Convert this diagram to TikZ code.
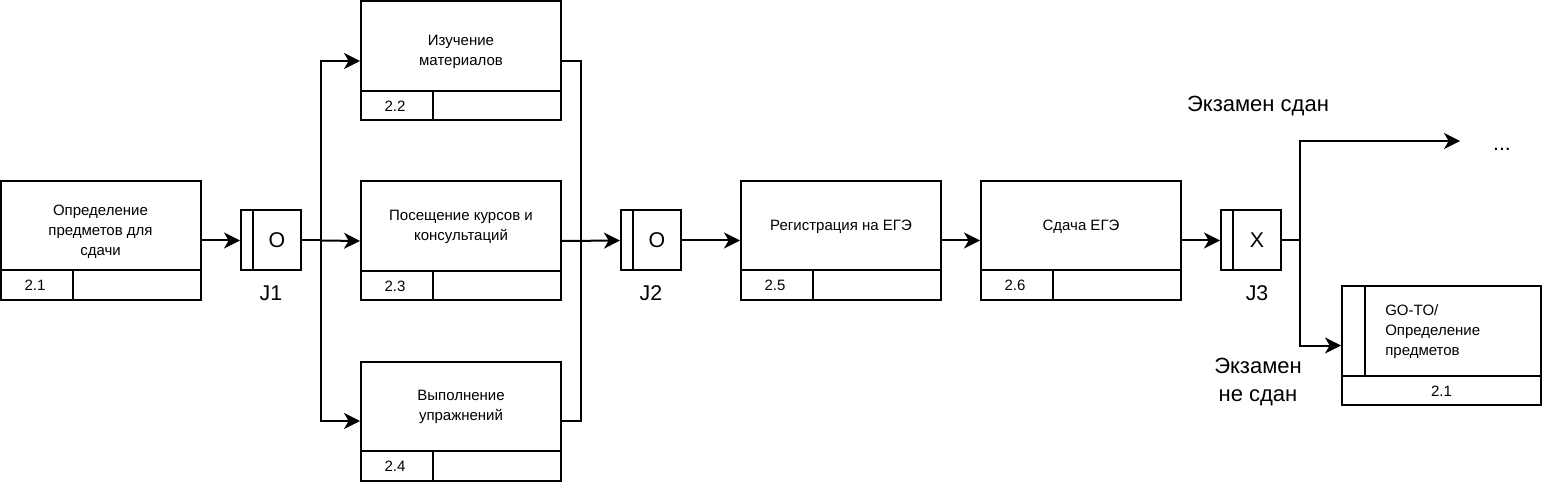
\documentclass[tikz,border=0pt]{standalone}
\usepackage{fontspec}
\setmainfont{Liberation Sans}
\usetikzlibrary{arrows.meta}
\tikzset{
  every picture/.style={x=0.75pt,y=-0.75pt},
  ln/.style={line width=1.5pt},
  proc/.style={draw,line width=1.5pt,minimum width=150pt,minimum height=89.25pt,inner sep=0pt},
  goto/.style={draw,line width=1.5pt,minimum width=149.25pt,minimum height=89.25pt,inner sep=0pt},
  junc/.style={draw,line width=1.5pt,minimum width=45pt,minimum height=45pt,inner sep=0pt},
  txt/.style={align=center,inner sep=0pt,font=\fontsize{11.25}{15}\selectfont},
  big/.style={align=center,inner sep=0pt,font=\fontsize{16}{21}\selectfont},
  exam/.style={align=center,inner sep=0pt,font=\fontsize{16.5}{21}\selectfont},
  arr/.style={line width=1.5pt,-{Stealth[length=12pt,width=12pt,inset=3.5pt]}},
  con/.style={line width=1.5pt}
}
\begin{document}
\begin{tikzpicture}
\useasboundingbox (0,0) rectangle (1544,484);
% boxes
\node[proc] (b21) at (100.5,240.5) {};
\node[proc] (b22) at (461,61) {};
\node[proc] (b23) at (461,241) {};
\node[proc] (b24) at (461,421) {};
\node[proc] (b25) at (841,240.5) {};
\node[proc] (b26) at (1081,240.5) {};
\node[goto] (bgo) at (1441.5,345.5) {};
% dividers
\draw[ln] (0,270) -- (201,270) (73,270) -- (73,300);
\draw[ln] (361,91) -- (561,91) (433,91) -- (433,121);
\draw[ln] (361,271) -- (561,271) (433,271) -- (433,301);
\draw[ln] (361,451) -- (561,451) (433,451) -- (433,481);
\draw[ln] (741,270) -- (941,270) (813,270) -- (813,300);
\draw[ln] (981,270) -- (1181,270) (1053,270) -- (1053,300);
\draw[ln] (1342,376) -- (1541,376) (1365,286) -- (1365,376);
% texts
\node[txt] (t21) at (100.5,232) {Определение\\предметов для\\сдачи};
\node[txt] (t22) at (461,52) {Изучение\\материалов};
\node[txt] (t23) at (461,227) {Посещение курсов и\\консультаций};
\node[txt] (t24) at (461,407) {Выполнение\\упражнений};
\node[txt] (t25) at (841,227) {Регистрация на ЕГЭ};
\node[txt] (t26) at (1081,227) {Сдача ЕГЭ};
\node[txt,align=left,anchor=west] (tgo) at (1385,332) {GO-TO/\\Определение\\предметов};
\node[txt] (n21) at (35,285) {2.1};
\node[txt] (n22) at (395,106) {2.2};
\node[txt] (n23) at (395,286) {2.3};
\node[txt] (n24) at (395,466) {2.4};
\node[txt] (n25) at (775,285) {2.5};
\node[txt] (n26) at (1015,285) {2.6};
\node[txt] (ngo) at (1441.5,391) {2.1};
% junctions
\node[junc] (j1) at (271,240.5) {};
\node[junc] (j2) at (651,240.5) {};
\node[junc] (j3) at (1251,240.5) {};
\draw[ln] (253,210.5) -- (253,270.5);
\draw[ln] (633,210.5) -- (633,270.5);
\draw[ln] (1233,210.5) -- (1233,270.5);
\node[big] (o1) at (277,240.5) {O};
\node[big] (o2) at (657,240.5) {O};
\node[big] (x3) at (1257,240.5) {X};
\node[big] (l1) at (271,293) {J1};
\node[big] (l2) at (651,293) {J2};
\node[big] (l3) at (1257,293) {J3};
% labels
\node[exam] (pass) at (1258,106) {Экзамен сдан};
\node[exam] (fail) at (1258,382) {Экзамен\\не сдан};
\node[big,anchor=base] (dots) at (1502,151) {...};
% connector points
\coordinate (s1) at (321,240.5);
\coordinate (m2) at (581,240.5);
\coordinate (s3) at (1300,240.5);
\coordinate (e3) at (1460,141);
% connectors
\draw[arr] (b21.east) -- (j1.west);
\draw[con] (j1.east) -- (s1);
\draw[arr] (s1) |- (b22.west);
\draw[arr] (s1) -- (b23.west);
\draw[arr] (s1) |- (b24.west);
\draw[con] (b22.east) -| (m2);
\draw[con] (b24.east) -| (m2);
\draw[arr] (b23.east) -- (j2.west);
\draw[arr] (j2.east) -- (b25.west);
\draw[arr] (b25.east) -- (b26.west);
\draw[arr] (b26.east) -- (j3.west);
\draw[con] (j3.east) -- (s3);
\draw[arr] (s3) |- (e3);
\draw[arr] (s3) |- (bgo.west);
\end{tikzpicture}
\end{document}
